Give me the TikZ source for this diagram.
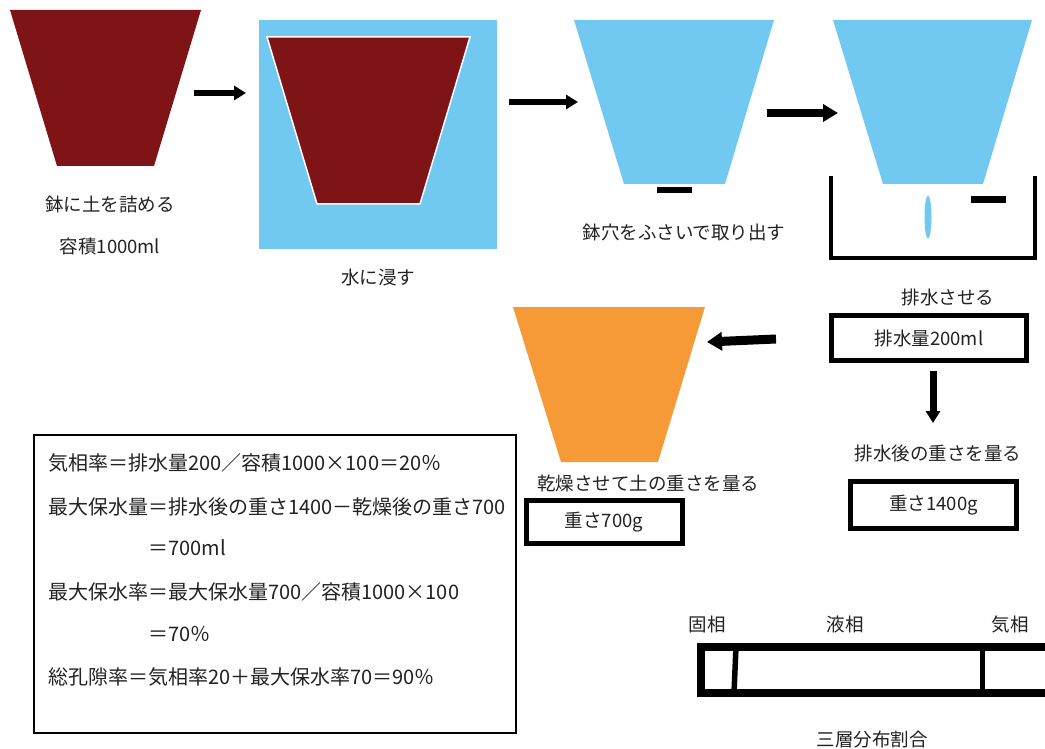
\documentclass[tikz,border=0pt]{standalone}
\usepackage{fontspec}
\setmainfont{Noto Sans CJK JP}
\usetikzlibrary{arrows.meta}
\definecolor{soil}{HTML}{7F1416}
\definecolor{water}{HTML}{71C8F1}
\definecolor{dry}{HTML}{F69A38}
\definecolor{ink}{HTML}{222222}
\begin{document}
\begin{tikzpicture}[x=1pt,y=-1pt,
  lbl/.style={text=ink,inner sep=0pt,font=\fontsize{18.5}{22}\selectfont},
  eq/.style={text=ink,inner sep=0pt,anchor=west,font=\fontsize{20}{24}\selectfont},
  valbox/.style={draw=black,line width=5pt,text=ink,inner sep=0pt,font=\fontsize{18.5}{22}\selectfont},
  blockarrow/.style={draw=black,line width=#1}, blockarrow/.default=6pt,
  tipA/.style={-{Triangle[length=12pt,width=14pt]}},
  tipB/.style={-{Triangle[length=15pt,width=17pt]}},
  tipC/.style={-{Triangle[length=15pt,width=18pt]}}
]
\useasboundingbox (0,0) rectangle (1045,749);
\fill[white] (0,0) rectangle (1045,749);

% pot 1: soil
\fill[soil] (10,10) -- (201,10) -- (154,166) -- (57,166) -- cycle;
\node[lbl] (t1) at (110,204) {鉢に土を詰める};
\node[lbl] (t2) at (110,247) {容積1000ml};

% pot in water
\fill[water] (259,20) rectangle (497,249);
\filldraw[fill=soil,draw=white,line width=1.5pt] (267,37) -- (470,37) -- (420,204) -- (317,204) -- cycle;
\node[lbl] (t3) at (378,277) {水に浸す};

% pot 2
\fill[water] (574,20) -- (774,20) -- (725,184) -- (624,184) -- cycle;
\fill[black] (657,187) rectangle (692,193);
\node[lbl] (t4) at (684,232) {鉢穴をふさいで取り出す};

% pot 3 draining
\fill[water] (833,20) -- (1032,20) -- (983,184) -- (883,184) -- cycle;
\draw[line width=4pt] (831,176) -- (831,258) -- (1035,258) -- (1035,176);
\fill[water] (928,217) ellipse [x radius=3.5, y radius=21.5];
\fill[black] (971,196) rectangle (1006,203);
\node[lbl] (t5) at (948,297) {排水させる};
\node[valbox,minimum width=195pt,minimum height=45pt] (b1) at (929,338) {排水量200ml};

\node[lbl] (t6) at (938,453) {排水後の重さを量る};
\node[valbox,minimum width=166pt,minimum height=47pt] (b2) at (933.5,505) {重さ1400g};

% dried pot
\fill[dry] (513,307) -- (705,307) -- (658,462) -- (561,462) -- cycle;
\node[lbl] (t7) at (648,483) {乾燥させて土の重さを量る};
\node[valbox,minimum width=156pt,minimum height=43pt] (b3) at (604,522) {重さ700g};

% arrows
\coordinate (a1s) at (194,93);   \coordinate (a1e) at (246,93);
\coordinate (a2s) at (509,102);  \coordinate (a2e) at (578,102);
\coordinate (a3s) at (767,113);  \coordinate (a3e) at (838,113);
\coordinate (a4s) at (776,339);  \coordinate (a4e) at (707,342);
\coordinate (a5s) at (933,371);  \coordinate (a5e) at (933,423);
\draw[blockarrow=6pt,tipA] (a1s) -- (a1e);
\draw[blockarrow=6.5pt,tipA] (a2s) -- (a2e);
\draw[blockarrow=8pt,tipB] (a3s) -- (a3e);
\draw[blockarrow=9pt,tipC] (a4s) -- (a4e);
\draw[blockarrow=7pt,tipA] (a5s) -- (a5e);

% formula box
\node[draw=black,line width=1.5pt,minimum width=482pt,minimum height=298pt,inner sep=0pt] (fbox) at (275,584) {};
\node[eq] (e1) at (48,463) {気相率＝排水量200／容積1000×100＝20％};
\node[eq] (e2) at (48,507) {最大保水量＝排水後の重さ1400－乾燥後の重さ700};
\node[eq] (e3) at (148,548) {＝700ml};
\node[eq] (e4) at (48,592) {最大保水率＝最大保水量700／容積1000×100};
\node[eq] (e5) at (148,634) {＝70％};
\node[eq] (e6) at (48,677) {総孔隙率＝気相率20＋最大保水率70＝90％};

% three-phase bar
\node[lbl] (p1) at (707,624) {固相};
\node[lbl] (p2) at (845,624) {液相};
\node[lbl] (p3) at (1010,625) {気相};
\draw[line width=8pt] (1045,647) -- (701,647) -- (701,693) -- (1045,693);
\draw[line width=5.5pt] (736,647) -- (734,693);
\draw[line width=5pt] (982,647) -- (982,693);
\node[lbl] (p4) at (872,740) {三層分布割合};
\end{tikzpicture}
\end{document}
